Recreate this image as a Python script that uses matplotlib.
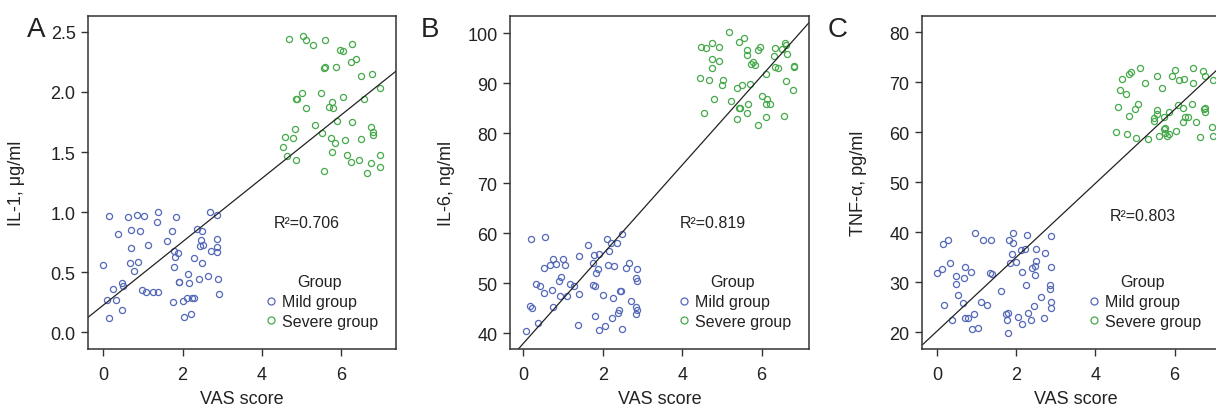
import matplotlib
matplotlib.use("Agg")
import matplotlib.pyplot as plt

plt.rcParams['font.family'] = ['Liberation Sans', 'DejaVu Sans']

BLUE = '#5468b8'
GREEN = '#45a94a'
DARK = '#333333'

# ---- panel A: IL-1 ----
il1_mild_x = [0.00, 0.14, 0.11, 0.16, 0.26, 0.32, 0.38, 0.48, 0.49, 0.48, 0.63, 0.67, 0.71, 0.71,
              0.78, 0.85, 0.89, 0.93, 0.97, 1.02, 1.09, 1.14, 1.26, 1.35, 1.37, 1.38, 1.61, 1.74,
              1.75, 1.78, 1.79, 1.80, 1.83, 1.89, 1.90, 1.91, 2.00, 2.05, 2.12, 2.14, 2.16, 2.22,
              2.25, 2.28, 2.29, 2.37, 2.41, 2.44, 2.47, 2.49, 2.50, 2.52, 2.64, 2.70, 2.73, 2.86,
              2.87, 2.87, 2.88, 2.89, 2.91]
il1_mild_y = [0.556, 0.967, 0.272, 0.117, 0.364, 0.267, 0.817, 0.414, 0.389, 0.186, 0.956, 0.575,
              0.850, 0.700, 0.506, 0.975, 0.586, 0.839, 0.356, 0.967, 0.336, 0.725, 0.336, 0.914,
              0.997, 0.336, 0.756, 0.847, 0.256, 0.675, 0.544, 0.628, 0.956, 0.656, 0.419, 0.419,
              0.264, 0.125, 0.283, 0.483, 0.414, 0.156, 0.283, 0.283, 0.617, 0.856, 0.444, 0.714,
              0.767, 0.578, 0.847, 0.725, 0.467, 0.997, 0.675, 0.975, 0.778, 0.706, 0.667, 0.447,
              0.317]
il1_sev_x = [4.69, 5.03, 5.10, 5.28, 5.60, 5.96, 6.05, 6.28, 6.24, 6.36, 5.56, 5.58, 5.86, 6.49,
             6.77, 6.98, 5.02, 4.85, 4.89, 5.49, 6.04, 6.56, 5.12, 5.76, 5.69, 5.78, 5.90, 5.35,
             6.26, 4.84, 4.57, 4.78, 5.51, 5.75, 5.83, 6.10, 6.49, 6.74, 6.80, 6.79, 4.54, 4.63,
             4.85, 5.77, 6.15, 6.25, 6.45, 6.98, 6.74, 6.97, 6.66, 5.56]
il1_sev_y = [2.439, 2.467, 2.428, 2.389, 2.428, 2.347, 2.339, 2.397, 2.250, 2.278, 2.203, 2.208,
             2.208, 2.131, 2.147, 2.036, 1.989, 1.939, 1.944, 1.989, 1.958, 1.939, 1.869, 1.917,
             1.875, 1.869, 1.758, 1.728, 1.747, 1.694, 1.628, 1.617, 1.656, 1.617, 1.578, 1.597,
             1.608, 1.708, 1.667, 1.639, 1.539, 1.467, 1.436, 1.497, 1.478, 1.417, 1.436, 1.478,
             1.406, 1.375, 1.328, 1.339]

# ---- panel B: IL-6 ----
il6_mild_x = [0.07, 0.17, 0.22, 0.21, 0.32, 0.38, 0.43, 0.53, 0.53, 0.55, 0.67, 0.72, 0.76, 0.76,
              0.82, 0.89, 0.92, 0.96, 1.01, 1.05, 1.11, 1.17, 1.28, 1.37, 1.40, 1.41, 1.64, 1.75,
              1.78, 1.75, 1.80, 1.81, 1.84, 1.89, 1.91, 1.90, 2.00, 2.05, 2.11, 2.14, 2.16, 2.22,
              2.24, 2.27, 2.28, 2.37, 2.39, 2.42, 2.44, 2.47, 2.49, 2.49, 2.60, 2.66, 2.71, 2.83,
              2.84, 2.84, 2.86, 2.87, 2.86]
il6_mild_y = [40.5, 45.5, 45.0, 58.8, 49.9, 42.0, 49.5, 53.1, 48.0, 59.2, 53.7, 48.7, 54.9, 45.3,
              53.9, 50.5, 47.4, 51.3, 54.8, 53.7, 47.5, 49.8, 49.5, 41.6, 47.8, 55.5, 57.7, 54.0,
              55.6, 49.6, 49.5, 43.5, 52.1, 52.9, 55.9, 40.7, 47.7, 41.5, 58.9, 53.7, 56.5, 58.1,
              43.0, 47.1, 53.5, 58.0, 44.0, 44.7, 48.4, 48.4, 59.9, 40.9, 53.1, 54.1, 46.5, 51.1,
              45.3, 43.9, 44.7, 52.9, 50.5]
il6_sev_x = [4.46, 4.55, 4.48, 4.60, 4.68, 4.74, 4.76, 4.75, 4.80, 4.92, 4.93, 4.99, 5.03, 5.17,
             5.24, 5.37, 5.39, 5.44, 5.46, 5.44, 5.56, 5.50, 5.62, 5.63, 5.62, 5.65, 5.70, 5.73,
             5.77, 5.82, 5.91, 5.90, 5.97, 6.00, 6.11, 6.13, 6.10, 6.12, 6.21, 6.30, 6.33, 6.34,
             6.41, 6.50, 6.58, 6.60, 6.63, 6.57, 6.61, 6.81, 6.82, 6.80]
il6_sev_y = [91.1, 84.0, 97.3, 97.1, 90.7, 94.9, 93.1, 98.1, 86.9, 94.5, 97.2, 89.7, 90.7, 100.2,
             86.4, 89.1, 82.9, 85.0, 85.1, 98.3, 99.1, 89.7, 96.7, 95.7, 84.1, 85.9, 89.9, 93.8,
             94.3, 93.7, 81.7, 96.7, 97.2, 87.5, 91.8, 86.9, 83.3, 85.9, 85.8, 95.5, 97.1, 93.3,
             93.1, 96.9, 98.0, 97.6, 95.9, 83.5, 90.5, 93.5, 93.3, 88.7]

# ---- panel C: TNF-alpha ----
tnf_mild_x = [0.01, 0.13, 0.17, 0.16, 0.27, 0.34, 0.39, 0.49, 0.49, 0.52, 0.65, 0.69, 0.71, 0.71,
              0.78, 0.87, 0.89, 0.94, 0.97, 1.03, 1.10, 1.15, 1.27, 1.35, 1.38, 1.37, 1.61, 1.74,
              1.77, 1.80, 1.79, 1.81, 1.84, 1.90, 1.91, 1.91, 1.99, 2.04, 2.12, 2.15, 2.15, 2.21,
              2.24, 2.28, 2.30, 2.37, 2.40, 2.44, 2.48, 2.48, 2.51, 2.51, 2.63, 2.69, 2.72, 2.86,
              2.86, 2.87, 2.89, 2.89, 2.89]
tnf_mild_y = [31.9, 32.6, 25.5, 37.7, 38.4, 33.8, 22.5, 31.3, 29.7, 27.4, 25.9, 30.8, 22.9, 33.1,
              22.9, 32.1, 20.6, 23.6, 39.9, 20.9, 26.1, 38.4, 25.4, 31.9, 31.6, 38.4, 28.3, 23.7,
              22.4, 23.9, 19.9, 38.5, 33.9, 35.7, 39.9, 37.9, 34.1, 23.0, 36.4, 32.1, 21.7, 36.6,
              29.5, 39.5, 23.9, 22.4, 32.9, 25.2, 33.3, 31.5, 36.7, 34.3, 27.0, 22.9, 35.9, 29.5,
              28.7, 26.1, 39.2, 33.1, 24.8]
tnf_sev_x = [4.53, 4.56, 4.63, 4.67, 4.77, 4.81, 4.84, 4.85, 4.89, 5.02, 5.00, 5.08, 5.12, 5.26,
             5.33, 5.47, 5.49, 5.55, 5.56, 5.56, 5.61, 5.68, 5.74, 5.74, 5.76, 5.76, 5.82, 5.85,
             5.87, 5.94, 6.02, 6.03, 6.09, 6.11, 6.23, 6.22, 6.22, 6.26, 6.34, 6.43, 6.47, 6.47,
             6.55, 6.64, 6.72, 6.74, 6.77, 6.77, 6.77, 6.95, 6.96, 6.96]
tnf_sev_y = [60.0, 65.1, 68.5, 70.7, 67.7, 59.7, 63.3, 71.6, 72.0, 58.8, 64.7, 65.7, 72.9, 69.9,
             58.6, 62.8, 62.2, 64.5, 63.6, 71.2, 59.3, 68.9, 63.1, 60.7, 60.8, 59.9, 59.2, 59.7,
             64.0, 71.2, 72.4, 60.3, 65.5, 70.5, 70.7, 64.9, 62.1, 63.1, 63.0, 65.6, 72.9, 69.9,
             62.1, 59.1, 72.3, 64.7, 64.9, 71.2, 64.1, 61.1, 59.3, 70.5]

# fitted lines as drawn (slope, intercept)
fit_a = (0.264, 0.225)
fit_b = (8.93, 37.9)
fit_c = (7.39, 20.2)

r2_labels = ['R\u00b2=0.706', 'R\u00b2=0.819', 'R\u00b2=0.803']
ylabels = ['IL-1, \u03bcg/ml', 'IL-6, ng/ml', 'TNF-\u03b1, pg/ml']

fig = plt.figure(figsize=(12.16, 4.10), dpi=100)
h = 0.812
bot = 0.146
axA = fig.add_axes([0.0724, bot, 0.2533, h])
axB = fig.add_axes([0.4194, bot, 0.2459, h])
axC = fig.add_axes([0.7582, bot, 0.2533, h])

panels = [
    (axA, il1_mild_x, il1_mild_y, il1_sev_x, il1_sev_y, fit_a, (-0.38, 7.38), (-0.14, 2.63),
     [0.0, 0.5, 1.0, 1.5, 2.0, 2.5], '%.1f', (0.604, 0.381), -0.205, 0.985),
    (axB, il6_mild_x, il6_mild_y, il6_sev_x, il6_sev_y, fit_b, (-0.33, 7.19), (36.8, 103.4),
     [40, 50, 60, 70, 80, 90, 100], '%d', (0.569, 0.381), -0.184, 0.985),
    (axC, tnf_mild_x, tnf_mild_y, tnf_sev_x, tnf_sev_y, fit_c, (-0.38, 7.40), (16.6, 83.2),
     [20, 30, 40, 50, 60, 70, 80], '%d', (0.61, 0.40), -0.179, 0.95),
]

for i, (ax, mx, my, sx, sy, fit, xl, yl, yt, fmt, r2pos, ylx, legx) in enumerate(panels):
    ax.plot(mx, my, 'o', ls='none', mfc='none', mec=BLUE, ms=4.4, mew=0.9, label='Mild group')
    ax.plot(sx, sy, 'o', ls='none', mfc='none', mec=GREEN, ms=4.4, mew=0.9, label='Severe group')
    ax.axline((0, fit[1]), slope=fit[0], color='#222222', lw=0.9)
    ax.set_xlim(*xl)
    ax.set_ylim(*yl)
    ax.set_xticks([0, 2, 4, 6])
    ax.set_yticks(yt)
    ax.set_yticklabels([fmt % v for v in yt])
    ax.tick_params(direction='out', length=5, width=1, color=DARK, labelsize=13,
                   labelcolor='#222222', pad=4)
    ax.tick_params(axis='x', pad=7)
    for s in ax.spines.values():
        s.set_color(DARK)
        s.set_linewidth(1.1)
    ax.set_xlabel('VAS score', fontsize=13, color='#222222', labelpad=5)
    ax.set_ylabel(ylabels[i], fontsize=13, color='#222222')
    ax.yaxis.set_label_coords(ylx, 0.5)
    ax.text(r2pos[0], r2pos[1], r2_labels[i], transform=ax.transAxes, fontsize=11.5,
            color='#222222', va='center', ha='left')
    leg = ax.legend(title='Group', frameon=False, loc='lower right',
                    bbox_to_anchor=(legx, 0.02),
                    fontsize=11.5, title_fontsize=11.5, handletextpad=0.1, labelspacing=0.3,
                    borderpad=0.35, markerscale=1.15, handlelength=1.2)
    leg.get_title().set_color('#222222')
    for t in leg.get_texts():
        t.set_color('#222222')

fig.text(0.022, 0.928, 'A', fontsize=20, color='#222222', ha='left', va='center')
fig.text(0.346, 0.928, 'B', fontsize=20, color='#222222', ha='left', va='center')
fig.text(0.681, 0.928, 'C', fontsize=20, color='#222222', ha='left', va='center')

fig.savefig('out.png', dpi=100)
